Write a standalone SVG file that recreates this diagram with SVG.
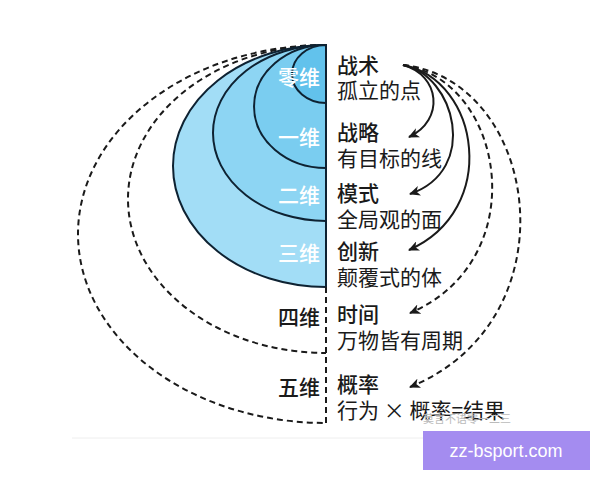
<svg xmlns="http://www.w3.org/2000/svg" width="600" height="480" viewBox="0 0 600 480">
  <style>
    .cjk { font-family: "Noto Sans CJK SC", "Noto Sans", sans-serif; font-size: 21px; }
    .title { fill: #1a1a1a; font-weight: 500; }
    .sub { fill: #1a1a1a; font-weight: 400; }
    .dimw { fill: #ffffff; font-weight: 500; text-anchor: end; }
    .dimb { fill: #1a1a1a; font-weight: 500; text-anchor: end; }
    .shell { stroke: #0e2232; stroke-width: 2; }
    .dash { fill: none; stroke: #1a1a1a; stroke-width: 2; stroke-dasharray: 6 4; }
    .solidc { fill: none; stroke: #1a1a1a; stroke-width: 2; }
    .dashc { fill: none; stroke: #1a1a1a; stroke-width: 2; stroke-dasharray: 6 4; }
  </style>
  <defs>
    <marker id="ah" markerUnits="userSpaceOnUse" markerWidth="12" markerHeight="10" refX="10" refY="5" orient="auto" viewBox="0 0 12 10">
      <path d="M0,0 L11,5 L0,10 L3,5 Z" fill="#1a1a1a"/>
    </marker>
  </defs>
  <rect width="600" height="480" fill="#ffffff"/>
  <line x1="72" y1="438" x2="423" y2="438" stroke="#eeeeee" stroke-width="1"/>

  <g id="level5">
    <path class="dash" d="M326,45 A248,189 0 0 0 326,423"/>
    <text class="cjk dimb" x="320" y="395">五维</text>
    <text class="cjk title" x="337" y="392">概率</text>
    <text class="cjk sub" x="337" y="418">行为 × 概率=结果</text>
  </g>
  <g id="level4">
    <path class="dash" d="M326,45 A198,154 0 0 0 326,353"/>
    <text class="cjk dimb" x="320" y="325">四维</text>
    <text class="cjk title" x="337" y="322">时间</text>
    <text class="cjk sub" x="337" y="348">万物皆有周期</text>
  </g>
  <g id="level3">
    <path class="shell" fill="#a2ddf6" d="M326,45 A153,121 0 0 0 326,287 Z"/>
    <text class="cjk dimw" x="320" y="261">三维</text>
    <text class="cjk title" x="337" y="259">创新</text>
    <text class="cjk sub" x="337" y="285">颠覆式的体</text>
  </g>
  <g id="level2">
    <path class="shell" fill="#8dd5f3" d="M326,45 A113,88 0 0 0 326,221 Z"/>
    <text class="cjk dimw" x="320" y="203">二维</text>
    <text class="cjk title" x="337" y="201">模式</text>
    <text class="cjk sub" x="337" y="227">全局观的面</text>
  </g>
  <g id="level1">
    <path class="shell" fill="#7acdf0" d="M326,45 A72,61.5 0 0 0 326,168 Z"/>
    <text class="cjk dimw" x="320" y="145">一维</text>
    <text class="cjk title" x="337" y="140">战略</text>
    <text class="cjk sub" x="337" y="166">有目标的线</text>
  </g>
  <g id="level0">
    <path class="shell" fill="#62c2ec" d="M326,45 A34,29 0 0 0 326,103 Z"/>
    <text class="cjk dimw" x="320" y="85">零维</text>
    <text class="cjk title" x="337" y="73">战术</text>
    <text class="cjk sub" x="337" y="98">孤立的点</text>
  </g>

  <g id="connectors">
    <line x1="326" y1="287" x2="326" y2="423" class="dash"/>
    <line x1="326" y1="45" x2="326" y2="287" stroke="#0e2232" stroke-width="2"/>
    <path class="solidc" marker-end="url(#ah)" d="M403,65 C440,75 445,120 409,137"/>
    <path class="solidc" marker-end="url(#ah)" d="M403,65 C455,75 480,170 410,194"/>
    <path class="solidc" marker-end="url(#ah)" d="M403,65 C480,80 500,210 409,250"/>
    <path class="dashc" marker-end="url(#ah)" d="M403,65 C505,80 535,260 410,313"/>
    <path class="dashc" marker-end="url(#ah)" d="M403,65 C540,80 575,320 410,387"/>
  </g>

  <g id="watermark">
    <text x="423" y="423" font-family="Noto Sans CJK SC, sans-serif" font-size="11" fill="#bbbbbb">莫言不语零一二三</text>
  </g>
  <g id="badge">
    <rect x="423" y="431" width="167" height="39" fill="#a48cf0"/>
    <text x="506" y="457" font-family="Liberation Sans, Arial, sans-serif" font-size="18" fill="#ffffff" text-anchor="middle">zz-bsport.com</text>
  </g>
</svg>
